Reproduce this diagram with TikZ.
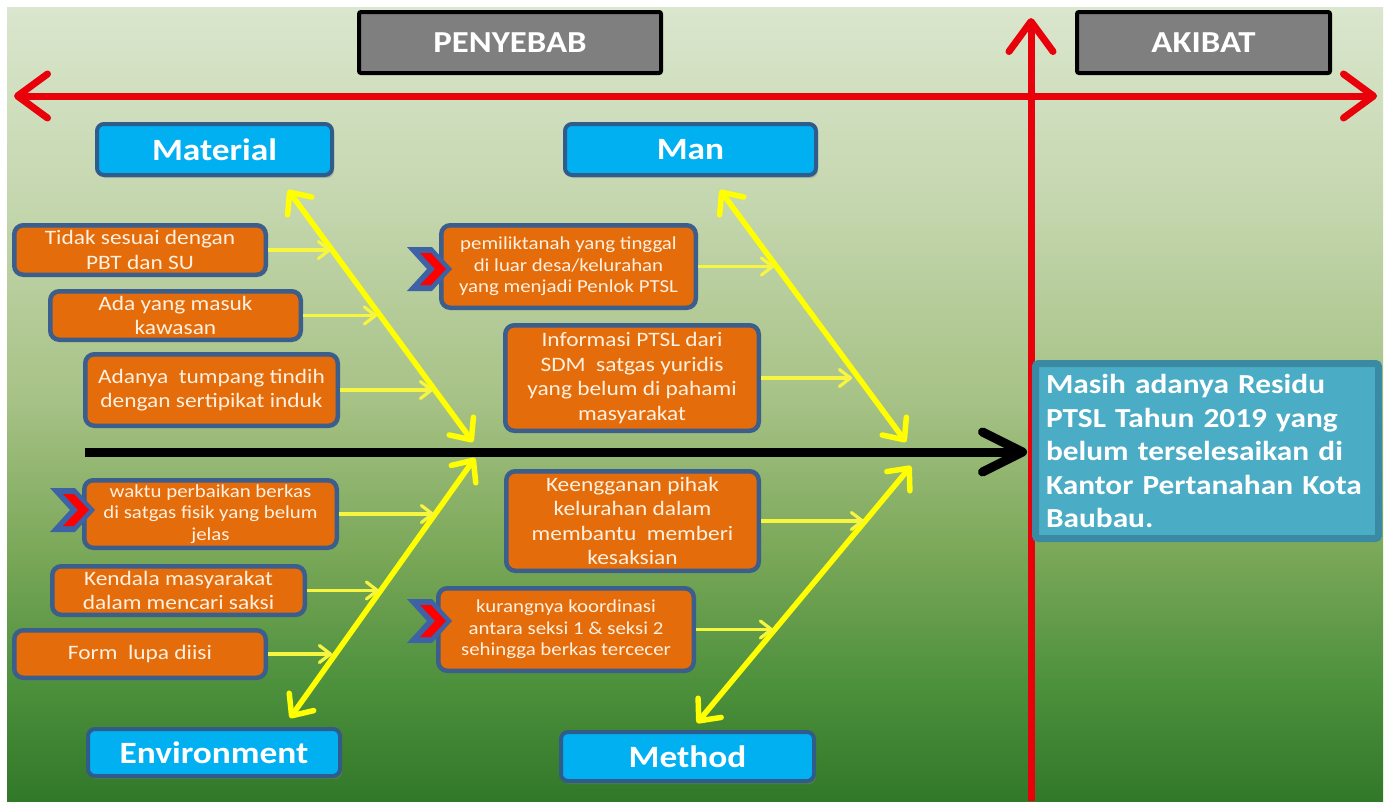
\documentclass[tikz,border=0pt]{standalone}
\usepackage{fontspec}
\setmainfont{Carlito}[FakeStretch=1.14]
\usetikzlibrary{arrows.meta,shadows}
\definecolor{bgA}{HTML}{317829}
\definecolor{bgB}{HTML}{4E913D}
\definecolor{bgC}{HTML}{7BA859}
\definecolor{bgD}{HTML}{A7C286}
\definecolor{bgE}{HTML}{C5D7AF}
\definecolor{bgF}{HTML}{DAE6CD}
\definecolor{catblue}{HTML}{00B0F0}
\definecolor{catborder}{HTML}{2F5C8A}
\definecolor{causeorange}{HTML}{E46C0A}
\definecolor{causeborder}{HTML}{3B5E8C}
\definecolor{causetext}{HTML}{FFF1E2}
\definecolor{hdrgray}{HTML}{7F7F7F}
\definecolor{resfill}{HTML}{4BACC6}
\definecolor{resborder}{HTML}{3A8AA4}
\definecolor{axisred}{HTML}{E8000A}
\definecolor{boneyellow}{HTML}{FFFF00}
\definecolor{twigyellow}{HTML}{F6F640}
\definecolor{chevblue}{HTML}{3D62A6}
\definecolor{chevred}{HTML}{FF0000}
\pgfdeclareverticalshading{bgshade}{100bp}{color(0bp)=(bgA); color(25bp)=(bgA); color(32.6bp)=(bgB); color(40.8bp)=(bgC); color(50.3bp)=(bgD); color(62.9bp)=(bgE); color(75bp)=(bgF); color(100bp)=(bgF)}
\begin{document}
\begin{tikzpicture}[x=1pt,y=-1pt,
  redtip/.tip={Straight Barb[length=30pt,width=44pt,round]},
  blacktip/.tip={Straight Barb[length=40pt,width=40pt,round]},
  bonetip/.tip={Straight Barb[length=17pt,width=30pt,round]},
  twigtip/.tip={Straight Barb[length=11pt,width=17pt,round]},
  axis/.style={draw=axisred, line width=7pt},
  spine/.style={draw=black, line width=9pt, -blacktip},
  bone/.style={draw=boneyellow, line width=5.5pt, bonetip-bonetip},
  twig/.style={draw=twigyellow, line width=3.2pt, -twigtip},
  hdr/.style={draw=black, line width=4pt, fill=hdrgray, rounded corners=2pt, text=white,
    font=\fontsize{30.5}{35}\selectfont\bfseries, inner sep=0pt, minimum width=302pt, minimum height=61pt},
  cat/.style={draw=catborder, line width=4pt, fill=catblue, rounded corners=7pt, text=white,
    font=\fontsize{31}{36}\selectfont\bfseries, inner sep=0pt,
    drop shadow={opacity=0.35, shadow xshift=2pt, shadow yshift=-3pt}},
  cause/.style={draw=causeborder, line width=4.5pt, fill=causeorange, rounded corners=9pt,
    text=causetext, font=\fontsize{20.5}{24.5}\selectfont, align=center, inner sep=0pt},
  smallcause/.style={cause, font=\fontsize{18.3}{21.5}\selectfont},
  result/.style={draw=resborder, line width=7pt, fill=resfill, rounded corners=3pt, text=white,
    font=\fontsize{27.5}{33.5}\selectfont\bfseries, align=left, text width=322pt, inner sep=0pt,
    minimum width=343pt, minimum height=175pt},
  chev/.pic={
    \fill[chevblue] (0,0) -- (25,0) -- (45,22) -- (25,44) -- (0,44) -- (20,22) -- cycle;
    \fill[chevred] (13,6) -- (24,6) -- (39,22) -- (24,38) -- (13,38) -- (28,22) -- cycle;
  }]
\useasboundingbox (0,0) rectangle (1390,801);
\fill[white] (0,0) rectangle (1390,801);
\shade[shading=bgshade] (7,7) rectangle (1383,801);

% headers
\node[hdr] (penyebab) at (510,42.5) {PENYEBAB};
\node[hdr, minimum width=253pt] (akibat) at (1203.5,42.5) {AKIBAT};

% red axes
\coordinate (hl) at (14,96);
\coordinate (hr) at (1377,96);
\coordinate (vb) at (1031,801);
\coordinate (vt) at (1031,18);
\draw[axis, redtip-redtip] (hl) -- (hr);
\draw[axis, -redtip] (vb) -- (vt);

% spine
\coordinate (sp0) at (85,452);
\coordinate (sp1) at (1027,452);
\draw[spine] (sp0) -- (sp1);

% bones
\coordinate (ma1) at (288,190); \coordinate (ma2) at (473,442);
\coordinate (mn1) at (720,190); \coordinate (mn2) at (906,442);
\coordinate (en1) at (475,458); \coordinate (en2) at (290,718);
\coordinate (me1) at (911,466); \coordinate (me2) at (697,723);
\draw[bone] (ma1) -- (ma2);
\draw[bone] (mn1) -- (mn2);
\draw[bone] (en1) -- (en2);
\draw[bone] (me1) -- (me2);

% categories
\node[cat, minimum width=235pt, minimum height=51pt] (material) at (214.5,149.5) {Material};
\node[cat, minimum width=251pt, minimum height=51pt] (man) at (690.5,149.5) {Man};
\node[cat, minimum width=252pt, minimum height=47pt] (environment) at (214,752.5) {Environment};
\node[cat, minimum width=253pt, minimum height=49pt] (method) at (687.5,756.5) {Method};

% causes
\node[cause, minimum width=251.5pt, minimum height=49.5pt] (b1) at (140,250) {Tidak sesuai dengan\\PBT dan SU};
\node[cause, minimum width=250.5pt, minimum height=48.5pt] (b2) at (175.5,315.5) {Ada yang masuk\\kawasan};
\node[cause, minimum width=252.5pt, minimum height=71.5pt] (b3) at (211.5,390) {Adanya\ \ tumpang tindih\\dengan sertipikat induk};
\node[smallcause, minimum width=254.5pt, minimum height=82.5pt] (b4) at (568.5,266.5) {pemiliktanah yang tinggal\\di luar desa/kelurahan\\yang menjadi Penlok PTSL};
\node[cause, minimum width=253.5pt, minimum height=105.5pt] (b5) at (632,378) {Informasi PTSL dari\\SDM\ \ satgas yuridis\\yang belum di pahami\\masyarakat};
\node[smallcause, minimum width=252.5pt, minimum height=67.5pt] (b6) at (210.5,514) {waktu perbaikan berkas\\di satgas fisik yang belum\\jelas};
\node[cause, minimum width=252.5pt, minimum height=48.5pt] (b7) at (178.5,590.5) {Kendala masyarakat\\dalam mencari saksi};
\node[cause, minimum width=251.5pt, minimum height=47.5pt] (b8) at (140,654) {Form\ \ lupa diisi};
\node[cause, minimum width=252.5pt, minimum height=99.5pt] (b9) at (632.5,521) {Keengganan pihak\\kelurahan dalam\\membantu\ \ memberi\\kesaksian};
\node[smallcause, minimum width=255.5pt, minimum height=82.5pt] (b10) at (566,629.5) {kurangnya koordinasi\\antara seksi 1 \& seksi 2\\sehingga berkas tercecer};

% twigs
\coordinate (t1) at (331,250);
\coordinate (t2) at (377,315.5);
\coordinate (t3) at (433,390);
\coordinate (t4) at (774,266.5);
\coordinate (t5) at (852,378);
\coordinate (t6) at (434,514);
\coordinate (t7) at (379,590.5);
\coordinate (t8) at (332,654);
\coordinate (t9) at (864,521);
\coordinate (t10) at (773,629.5);
\foreach \i in {1,...,10} {\draw[twig] (b\i.east) -- (t\i);}

% chevrons
\pic at (407,247) {chev};
\pic at (50,488) {chev};
\pic at (407,599) {chev};

% result
\node[result] (res) at (1207,451) {Masih adanya Residu\\PTSL Tahun 2019 yang\\belum terselesaikan di\\Kantor Pertanahan Kota\\Baubau.};
\end{tikzpicture}
\end{document}
